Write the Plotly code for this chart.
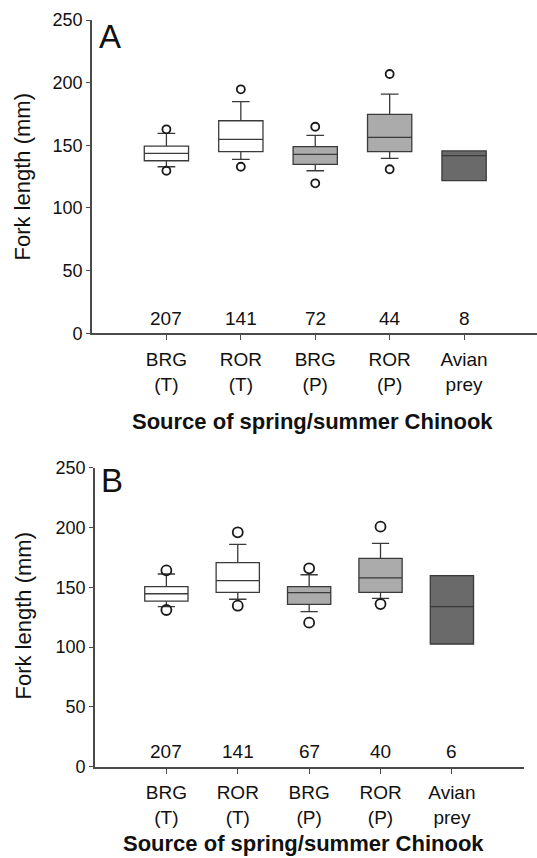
import plotly.graph_objects as go

categories = ["BRG<br>(T)", "ROR<br>(T)", "BRG<br>(P)", "ROR<br>(P)", "Avian<br>prey"]
positions = [0, 1, 2, 3, 4]
fills = ["#ffffff", "#ffffff", "#ababab", "#ababab", "#6a6a6a"]

# Panel A
q1_a = [137.7, 144.9, 134.8, 144.9, 121.8]
med_a = [143.6, 154.8, 142.8, 156.4, 141.7]
q3_a = [149.4, 169.6, 148.9, 174.7, 145.5]
lo_a = [132.9, 138.8, 129.7, 139.6, 121.8]
hi_a = [159.6, 184.8, 158.0, 190.9, 145.5]
out_hi_a = [162.8, 194.7, 164.8, 206.9, None]
out_lo_a = [129.7, 132.9, 119.7, 130.9, None]
n_a = [207, 141, 72, 44, 8]

# Panel B
q1_b = [138.5, 145.8, 135.8, 145.8, 102.6]
med_b = [144.6, 155.5, 145.5, 157.8, 133.8]
q3_b = [150.5, 170.6, 150.5, 174.2, 159.7]
lo_b = [133.8, 140.0, 129.6, 140.8, 102.6]
hi_b = [161.1, 185.9, 160.5, 186.8, 159.7]
out_hi_b = [164.2, 196.0, 165.9, 200.7, None]
out_lo_b = [131.0, 134.6, 120.4, 136.0, None]
n_b = [207, 141, 67, 40, 6]

yticks = [0, 50, 100, 150, 200, 250]

FONT = "Liberation Sans, Arial, Helvetica, sans-serif"
AX = "#4a4a4a"
TXT = "#111111"
W, H = 537, 858

fig = go.Figure()

panels = [
    dict(xa="x", ya="y", q1=q1_a, med=med_a, q3=q3_a, lo=lo_a, hi=hi_a,
         oh=out_hi_a, ol=out_lo_a, n=n_a, bw=0.595, ms=8),
    dict(xa="x2", ya="y2", q1=q1_b, med=med_b, q3=q3_b, lo=lo_b, hi=hi_b,
         oh=out_hi_b, ol=out_lo_b, n=n_b, bw=0.606, ms=10),
]

for p in panels:
    for i, pos in enumerate(positions):
        fig.add_trace(go.Box(
            x=[pos], q1=[p["q1"][i]], median=[p["med"][i]], q3=[p["q3"][i]],
            lowerfence=[p["lo"][i]], upperfence=[p["hi"][i]],
            width=p["bw"], whiskerwidth=0.4, boxpoints=False,
            fillcolor=fills[i], line=dict(color="#3a3a3a", width=1.3),
            xaxis=p["xa"], yaxis=p["ya"], showlegend=False,
        ))
    ox, oy = [], []
    for i, pos in enumerate(positions):
        for v in (p["oh"][i], p["ol"][i]):
            if v is not None:
                ox.append(pos)
                oy.append(v)
    fig.add_trace(go.Scatter(
        x=ox, y=oy, mode="markers",
        marker=dict(symbol="circle-open", size=p["ms"], color="#1a1a1a",
                    line=dict(width=1.8, color="#1a1a1a")),
        xaxis=p["xa"], yaxis=p["ya"], showlegend=False,
    ))
    for i, pos in enumerate(positions):
        fig.add_annotation(x=pos, y=2, xref=p["xa"], yref=p["ya"],
                           text=str(p["n"][i]), showarrow=False,
                           xanchor="center", yanchor="bottom",
                           font=dict(size=19, family=FONT, color=TXT))

common_x = dict(tickvals=positions, ticktext=categories, ticks="outside",
                ticklen=5, tickwidth=1.3, tickcolor=AX, showline=True,
                linecolor=AX, linewidth=1.6, showgrid=False, zeroline=False,
                automargin=False, ticklabelstandoff=3,
                tickfont=dict(size=19, family=FONT, color=TXT))
common_y = dict(range=[0, 250], tickvals=yticks, ticks="outside", ticklen=4,
                tickwidth=1.3, tickcolor=AX, showline=True, linecolor=AX,
                linewidth=1.6, showgrid=False, zeroline=False,
                automargin=False, ticklabelstandoff=0,
                tickfont=dict(size=18, family=FONT, color=TXT))

fig.update_layout(
    width=W, height=H,
    margin=dict(l=0, r=0, t=0, b=0),
    paper_bgcolor="white", plot_bgcolor="white",
    showlegend=False,
    xaxis=dict(domain=[92 / W, 1.0], range=[-1.0, 4.98], anchor="y", **common_x),
    yaxis=dict(domain=[1 - 333.3 / H, 1 - 20 / H], anchor="x", **common_y),
    xaxis2=dict(domain=[95 / W, 524 / W], range=[-1.0, 5.01], anchor="y2", **common_x),
    yaxis2=dict(domain=[1 - 766.7 / H, 1 - 467.7 / H], anchor="x2", **common_y),
)

# Panel letters
for letter, lx, ly in (("A", 110, 36), ("B", 112, 480)):
    fig.add_annotation(x=lx / W, y=1 - ly / H, xref="paper", yref="paper",
                       xanchor="center", yanchor="middle",
                       text=letter, showarrow=False,
                       font=dict(size=33, family=FONT, color=TXT))
# y-axis titles
for cy in (177, 616):
    fig.add_annotation(x=22.5 / W, y=1 - cy / H, xref="paper", yref="paper",
                       xanchor="center", yanchor="middle",
                       text="Fork length (mm)", showarrow=False, textangle=-90,
                       font=dict(size=22, family=FONT, color=TXT))
# x-axis titles
fig.add_annotation(x=312 / W, y=1 - 421 / H, xref="paper", yref="paper",
                   xanchor="center", yanchor="middle",
                   text="<b>Source of spring/summer Chinook</b>", showarrow=False,
                   font=dict(size=22, family=FONT, color=TXT))
fig.add_annotation(x=303 / W, y=0, xref="paper", yref="paper",
                   xanchor="center", yanchor="bottom",
                   text="<b>Source of spring/summer Chinook</b>", showarrow=False,
                   font=dict(size=22, family=FONT, color=TXT))

fig.write_html("out.html")
